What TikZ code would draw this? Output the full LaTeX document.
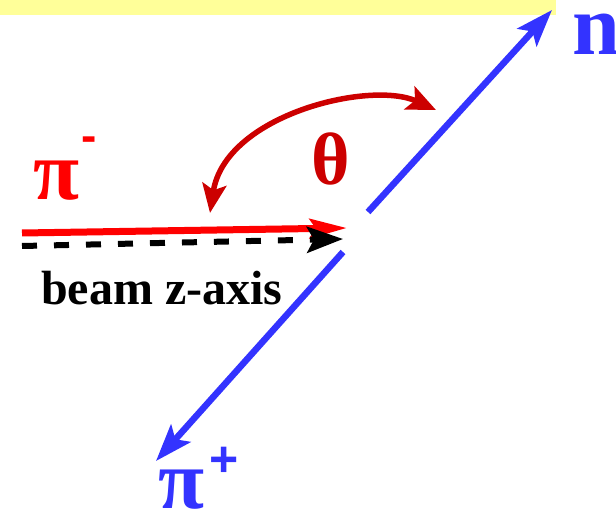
\documentclass[tikz,border=0pt]{standalone}
\usepackage{fontspec}
\setmainfont{Liberation Serif}
\newfontfamily\signfont{Liberation Sans}
\usepackage{xcolor}
\usetikzlibrary{arrows.meta, positioning}

\definecolor{pionred}{HTML}{FF0000}
\definecolor{thetared}{HTML}{CC0000}
\definecolor{trackblue}{HTML}{3333FF}
\definecolor{bandyellow}{HTML}{FFFF99}

\begin{document}
\begin{tikzpicture}[
    x=1pt, y=-1pt,
    lbl/.style={inner sep=0pt, anchor=base west, font=\bfseries},
    pionarr/.style={-{Stealth[length=37pt, width=19pt, inset=6pt]}, line width=7pt, pionred},
    beamarr/.style={-{Stealth[length=36pt, width=26pt, inset=7pt]}, line width=6pt, dash pattern=on 15pt off 17pt, black},
    trackarr/.style={-{Stealth[length=37pt, width=26pt, inset=8pt]}, line width=6.5pt, trackblue},
    anglearr/.style={{Stealth[length=29pt, width=24pt, inset=6pt]}-{Stealth[length=29pt, width=25pt, inset=6pt]}, line width=5.5pt, thetared},
]
\useasboundingbox (0,0) rectangle (616,510);

% ======== top band ========
\fill[bandyellow] (0,0) rectangle (556,15);

% ======== points ========
\coordinate (pimstart) at (22,233);
\coordinate (pimend) at (347,228);
\coordinate (zstart) at (22,246);
\coordinate (zend) at (343,239);
\coordinate (nstart) at (368,212);
\coordinate (ntip) at (552,10);
\coordinate (pipstart) at (343,252);
\coordinate (piptip) at (156,461);
\coordinate (thlow) at (210,213);
\coordinate (thhigh) at (436,110);

% ======== arrows ========
\draw[pionarr] (pimstart) -- (pimend);
\draw[beamarr] (zstart) -- (zend);
\draw[trackarr] (nstart) -- (ntip);
\draw[trackarr] (pipstart) -- (piptip);
\draw[anglearr] (thlow) .. controls (225,115) and (370,80) .. (thhigh);

% ======== labels ========
\node[lbl, trackblue, font=\bfseries\fontsize{86}{86}\selectfont] (nlabel) at (572,55) {n};
\node[lbl, thetared, font=\bfseries\fontsize{74}{74}\selectfont] (thlabel) at (311,185) {θ};
\node[lbl, pionred, font=\bfseries\fontsize{84}{84}\selectfont] (pimlabel) at (33,200)
    {π\hspace{2pt}\raisebox{48pt}{\signfont\fontsize{46}{46}\selectfont -}};
\node[lbl, trackblue, font=\bfseries\fontsize{84}{84}\selectfont] (piplabel) at (158,508)
    {π\hspace{5pt}\raisebox{32pt}{\signfont\fontsize{50}{50}\selectfont +}};
\node[lbl, black, font=\bfseries\fontsize{48}{48}\selectfont] (zlabel) at (41,305) {beam z-axis};

\end{tikzpicture}
\end{document}
